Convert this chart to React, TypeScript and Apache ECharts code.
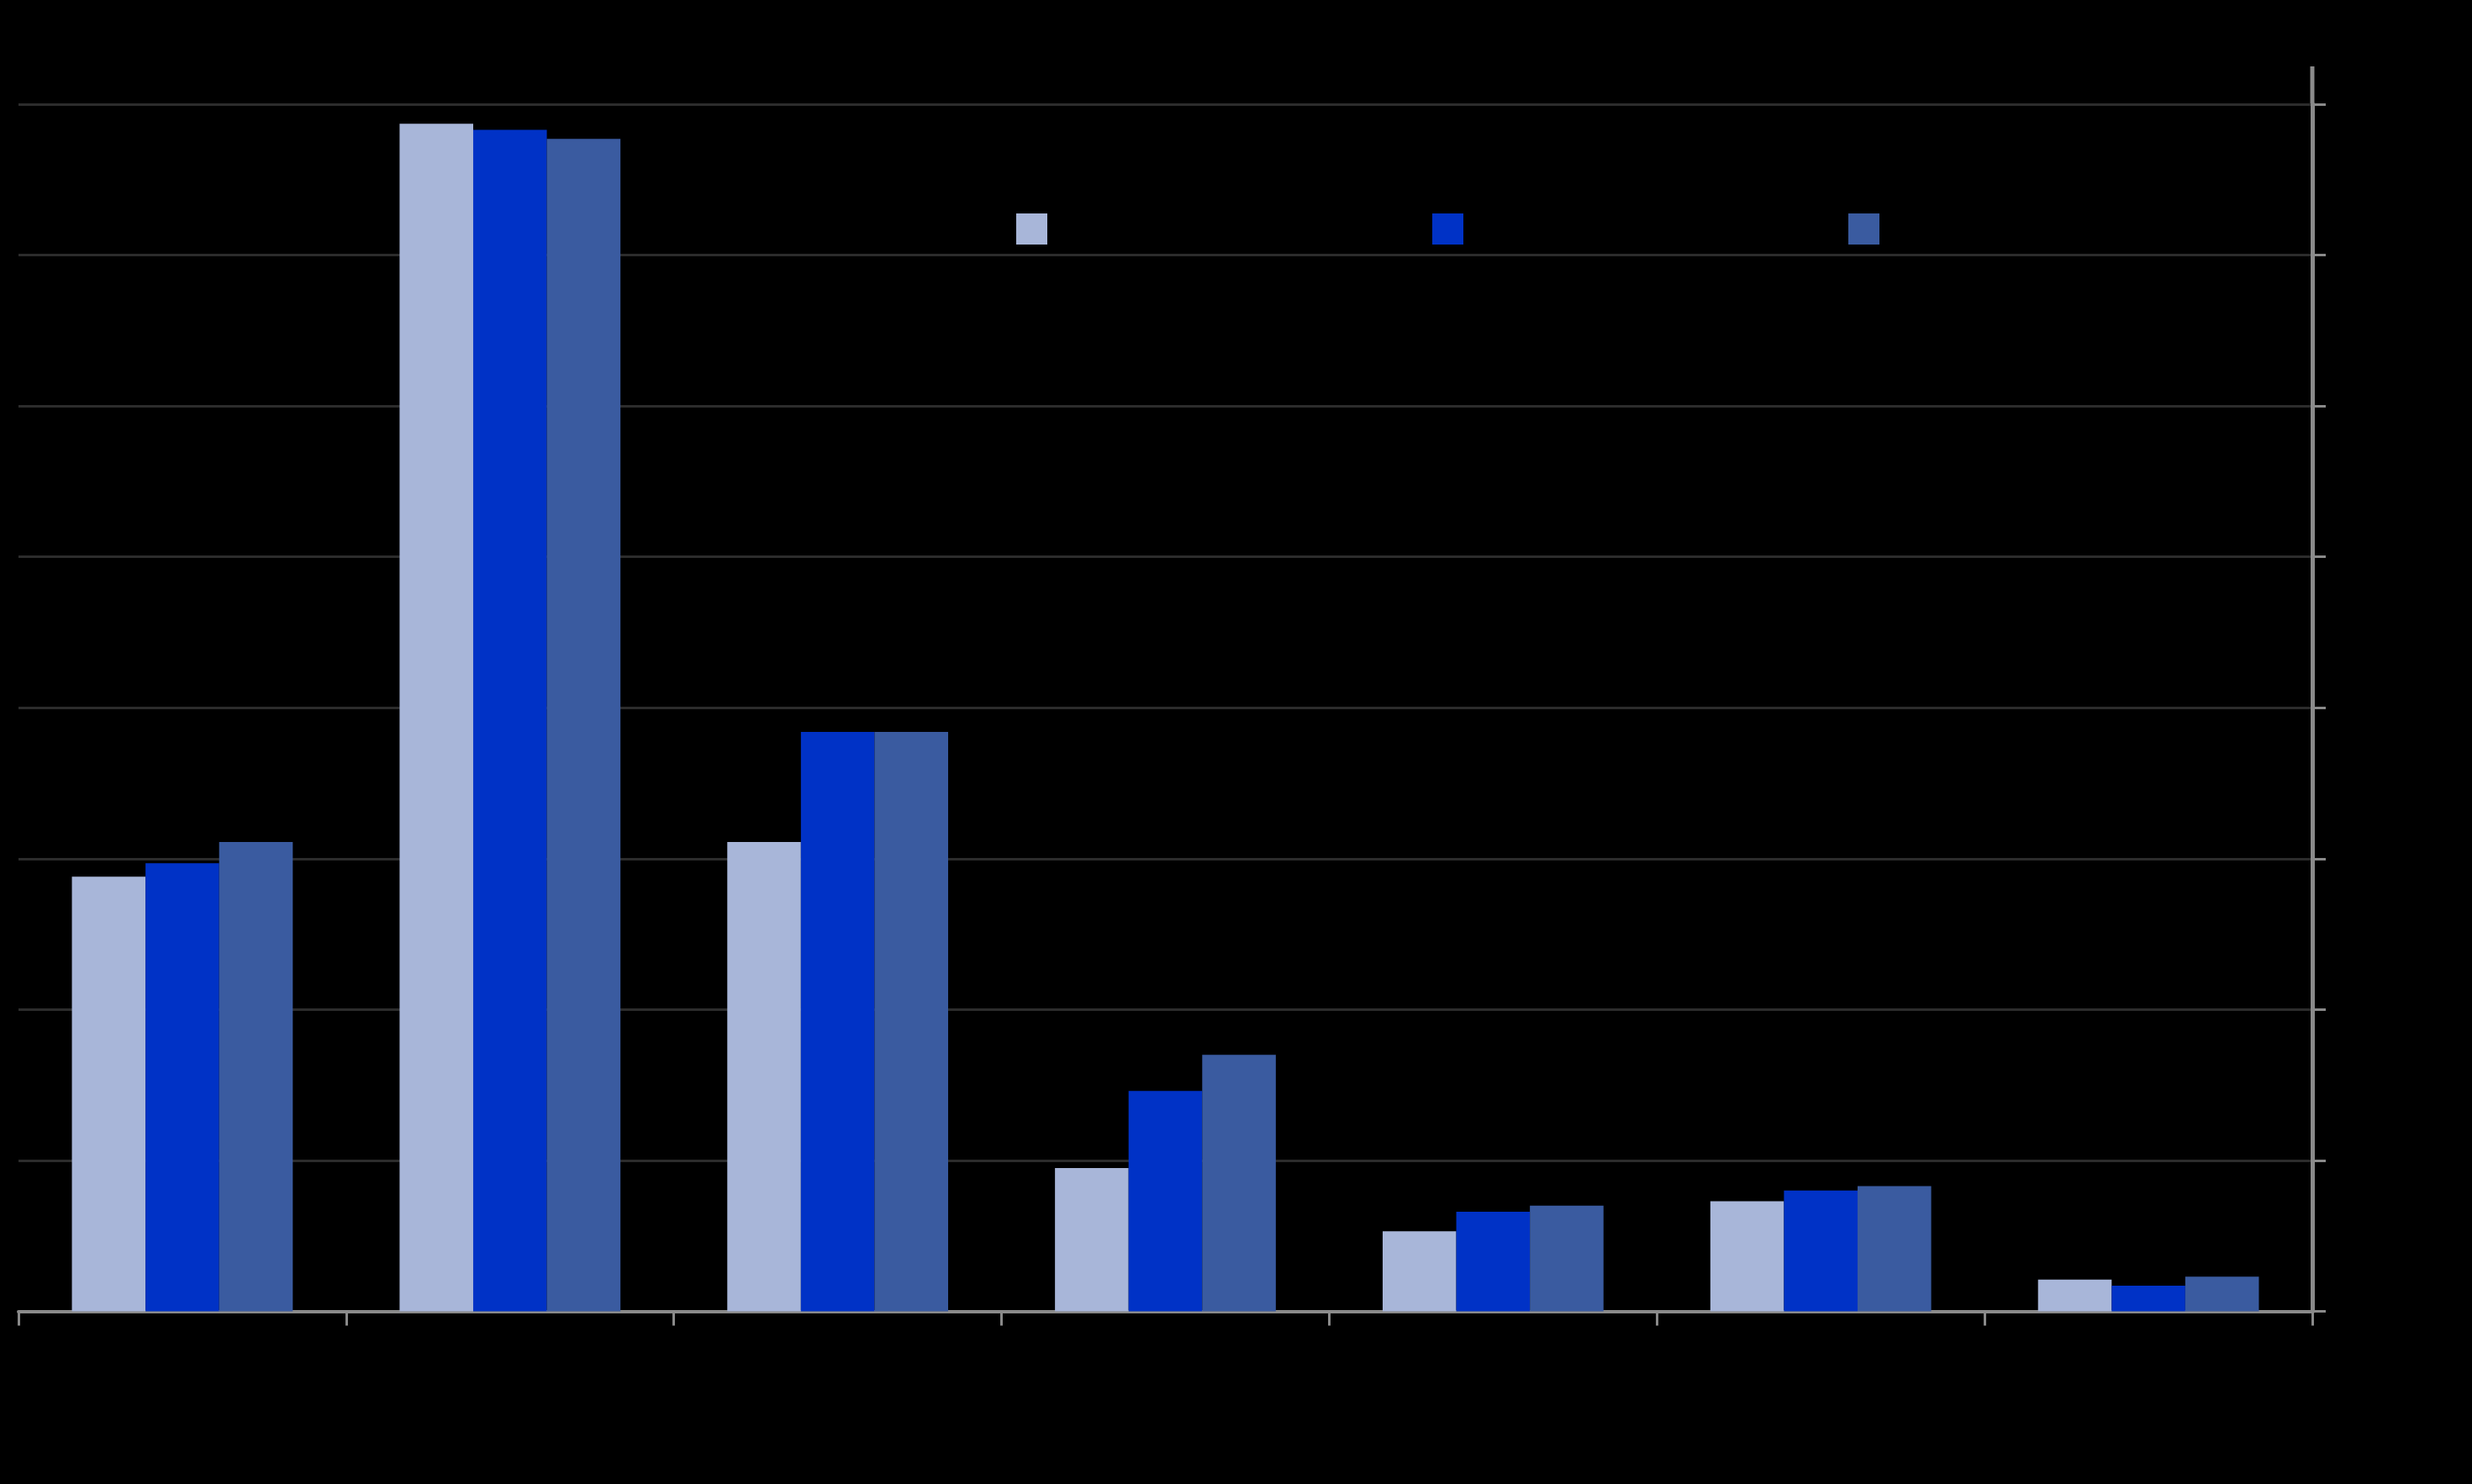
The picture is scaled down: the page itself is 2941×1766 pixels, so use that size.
import React, { useEffect, useRef } from "react";
import * as echarts from "echarts";

const categories = ["A", "B", "C", "D", "E", "F", "G"];
const seriesNames = ["Series 1", "Series 2", "Series 3"];
const series1 = [2.88, 7.87, 3.11, 0.95, 0.53, 0.73, 0.21];
const series2 = [2.97, 7.83, 3.84, 1.46, 0.66, 0.8, 0.17];
const series3 = [3.11, 7.77, 3.84, 1.7, 0.7, 0.83, 0.23];
const colors = ["#A8B6D9", "#0032C6", "#3A5BA0"];
const legendLefts = [1204, 1699, 2194];

export default function App() {
  const ref = useRef<HTMLDivElement>(null);
  useEffect(() => {
    document.body.style.margin = "0";
    document.body.style.background = "#000";
    const chart = echarts.init(ref.current!, null, { renderer: "svg" });
    const data = [series1, series2, series3];
    chart.setOption({
      animation: false,
      backgroundColor: "#000000",
      textStyle: { fontFamily: "Liberation Sans", color: "#000" },
      legend: seriesNames.map((n, i) => ({
        left: legendLefts[i],
        top: 249,
        itemWidth: 37,
        itemHeight: 37,
        icon: "rect",
        data: [n],
        textStyle: { color: "#000", fontSize: 28 },
      })),
      grid: { left: 22, right: 190, top: 124, bottom: 205.5, containLabel: false },
      xAxis: {
        type: "category",
        data: categories,
        boundaryGap: true,
        axisLine: { show: true, lineStyle: { color: "#8a8a8a", width: 4 } },
        axisTick: { show: true, length: 17, lineStyle: { color: "#8a8a8a", width: 3 } },
        axisLabel: { color: "#000", fontSize: 28, margin: 24 },
        splitLine: { show: false },
      },
      yAxis: {
        type: "value",
        position: "right",
        min: 0,
        max: 8,
        interval: 1,
        axisLine: { show: true, lineStyle: { color: "#8a8a8a", width: 5 } },
        axisTick: { show: true, length: 16, lineStyle: { color: "#8a8a8a", width: 3 } },
        axisLabel: { color: "#000", fontSize: 28, margin: 24 },
        splitLine: { show: true, lineStyle: { color: "#2c2c2c", width: 3 } },
      },
      graphic: [
        {
          type: "line",
          shape: { x1: 2751, y1: 79, x2: 2751, y2: 124 },
          style: { stroke: "#8a8a8a", lineWidth: 5 },
        },
      ],
      series: data.map((d, i) => ({
        name: seriesNames[i],
        type: "bar",
        data: d,
        barGap: "0%",
        barCategoryGap: "32.6%",
        itemStyle: { color: colors[i] },
      })),
    });
    return () => chart.dispose();
  }, []);
  return (
    <div
      ref={ref}
      style={{ position: "fixed", left: 0, top: 0, width: 2941, height: 1766, background: "#000" }}
    />
  );
}
